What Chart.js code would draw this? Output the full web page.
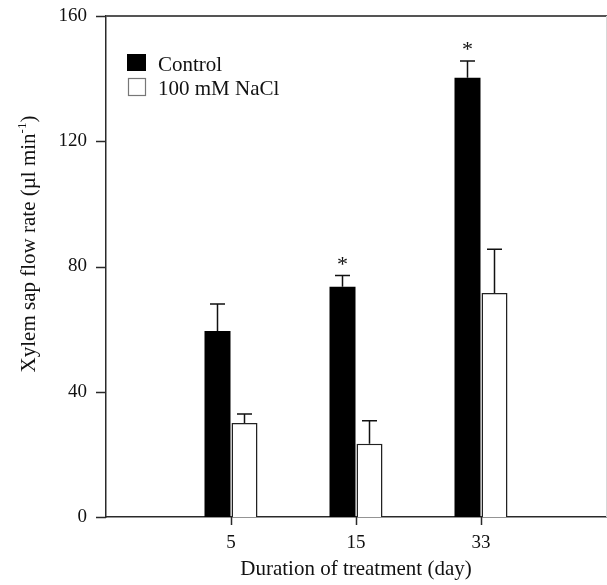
<!DOCTYPE html>
<html>
<head>
<meta charset="utf-8">
<script src="https://cdn.jsdelivr.net/npm/chart.js@4.4.1/dist/chart.umd.min.js"></script>
<style>
  html, body { margin: 0; padding: 0; background: #fff; }
  #wrap { width: 607px; height: 585px; }
</style>
</head>
<body>
<div id="wrap"><canvas id="c" width="607" height="585"></canvas></div>
<script>
// ---- data ----
const days = ['5', '15', '33'];
const controlMean = [59.4, 73.5, 140.3];
const controlErr  = [68.0, 77.1, 145.6];   // upper end of error bar
const naclMean    = [30.0, 23.4, 71.5];
const naclErr     = [32.9, 30.7, 85.5];
const controlSig  = [false, true, true];   // asterisk
const yTicks = [0, 40, 80, 120, 160];
const seriesNames = ['Control', '100 mM NaCl'];

const FONT = '"Liberation Serif", "Times New Roman", serif';
const AX = '#2a2a2a';

const toXY = arr => arr.map((v, i) => ({ x: i + 1, y: v }));

const errorBars = {
  id: 'errorBars',
  afterDatasetsDraw(chart) {
    const ctx = chart.ctx;
    const ys = chart.scales.y;
    const errs = [controlErr, naclErr];
    ctx.save();
    ctx.strokeStyle = '#111';
    ctx.lineWidth = 1.5;
    chart.data.datasets.forEach((ds, di) => {
      const meta = chart.getDatasetMeta(di);
      meta.data.forEach((bar, i) => {
        const yTop = ys.getPixelForValue(errs[di][i]);
        ctx.beginPath();
        ctx.moveTo(bar.x, bar.y);
        ctx.lineTo(bar.x, yTop);
        ctx.moveTo(bar.x - 7.5, yTop);
        ctx.lineTo(bar.x + 7.5, yTop);
        ctx.stroke();
        if (di === 0 && controlSig[i]) {
          ctx.fillStyle = '#111';
          ctx.font = '22px ' + FONT;
          ctx.textAlign = 'center';
          ctx.textBaseline = 'alphabetic';
          ctx.fillText('*', bar.x, yTop - 5);
        }
      });
    });
    ctx.restore();
  }
};

const decorations = {
  id: 'decorations',
  afterDraw(chart) {
    const ctx = chart.ctx;
    const a = chart.chartArea;
    const xs = chart.scales.x, ys = chart.scales.y;
    ctx.save();
    // axis tick marks (outside)
    ctx.strokeStyle = AX;
    ctx.lineWidth = 1.5;
    ctx.beginPath();
    xs.ticks.forEach(t => {
      const px = Math.round(xs.getPixelForValue(t.value)) + 0.5;
      ctx.moveTo(px, a.bottom);
      ctx.lineTo(px, a.bottom + 8);
    });
    ys.ticks.forEach(t => {
      const py = Math.round(ys.getPixelForValue(t.value)) + 0.5;
      ctx.moveTo(a.left - 10, py);
      ctx.lineTo(a.left, py);
    });
    ctx.stroke();
    // top frame line
    ctx.strokeStyle = '#555';
    ctx.lineWidth = 2;
    ctx.beginPath();
    ctx.moveTo(a.left, a.top);
    ctx.lineTo(chart.width, a.top);
    ctx.stroke();
    // faint right frame
    ctx.strokeStyle = '#d8d8d8';
    ctx.lineWidth = 1;
    ctx.beginPath();
    ctx.moveTo(a.right + 0.5, a.top);
    ctx.lineTo(a.right + 0.5, a.bottom);
    ctx.stroke();

    // legend
    ctx.fillStyle = '#000';
    ctx.fillRect(127, 54, 19, 17);
    ctx.fillStyle = '#fff';
    ctx.fillRect(128, 78, 18, 18);
    ctx.strokeStyle = '#777';
    ctx.lineWidth = 1.2;
    ctx.strokeRect(128.5, 78.5, 17, 17);
    ctx.fillStyle = '#111';
    ctx.font = '21px ' + FONT;
    ctx.textAlign = 'left';
    ctx.textBaseline = 'alphabetic';
    ctx.fillText(seriesNames[0], 158, 71);
    ctx.fillText(seriesNames[1], 158, 95);

    // y-axis title with superscript
    const main = 'Xylem sap flow rate (\u00b5l min';
    const sup = '-1';
    const close = ')';
    ctx.font = '21px ' + FONT;
    const w1 = ctx.measureText(main).width;
    const w3 = ctx.measureText(close).width;
    ctx.font = '13px ' + FONT;
    const w2 = ctx.measureText(sup).width;
    const total = w1 + w2 + w3;
    ctx.translate(35, 244);
    ctx.rotate(-Math.PI / 2);
    let x0 = -total / 2;
    ctx.font = '21px ' + FONT;
    ctx.fillText(main, x0, 0);
    ctx.font = '13px ' + FONT;
    ctx.fillText(sup, x0 + w1, -9);
    ctx.font = '21px ' + FONT;
    ctx.fillText(close, x0 + w1 + w2, 0);
    ctx.restore();
  }
};

new Chart(document.getElementById('c'), {
  type: 'bar',
  data: {
    datasets: [
      {
        label: seriesNames[0],
        data: toXY(controlMean),
        backgroundColor: '#000',
        borderColor: '#000',
        borderWidth: 0,
        barPercentage: 0.963,
        categoryPercentage: 0.432
      },
      {
        label: seriesNames[1],
        data: toXY(naclMean),
        backgroundColor: '#fff',
        borderColor: '#222',
        borderWidth: 1.5,
        barPercentage: 0.963,
        categoryPercentage: 0.432
      }
    ]
  },
  options: {
    responsive: false,
    animation: false,
    devicePixelRatio: 1,
    layout: { padding: { top: 16, right: 1, left: 0, bottom: 0 } },
    plugins: {
      legend: { display: false },
      tooltip: { enabled: false }
    },
    scales: {
      x: {
        type: 'linear',
        min: 0,
        max: 4,
        offset: false,
        afterBuildTicks: s => { s.ticks = days.map((d, i) => ({ value: i + 1 })); },
        afterFit: s => { s.height = 68; s.paddingLeft = 0; s.paddingRight = 0; },
        ticks: {
          callback: v => days[v - 1],
          font: { family: FONT, size: 19 },
          color: '#111',
          padding: 7,
          maxRotation: 0
        },
        grid: { display: false, offset: false },
        border: { display: true, color: AX, width: 1.5 },
        title: {
          display: true,
          text: 'Duration of treatment (day)',
          font: { family: FONT, size: 21, lineHeight: 1.2 },
          color: '#111',
          padding: { top: 0, bottom: 3 }
        }
      },
      y: {
        min: 0,
        max: 160,
        afterBuildTicks: s => { s.ticks = yTicks.map(v => ({ value: v })); },
        afterFit: s => { s.width = 106; s.paddingTop = 0; s.paddingBottom = 0; },
        ticks: {
          font: { family: FONT, size: 19 },
          color: '#111',
          padding: 11
        },
        grid: { display: false },
        border: { display: true, color: AX, width: 1.5 }
      }
    }
  },
  plugins: [errorBars, decorations]
});
</script>
</body>
</html>
